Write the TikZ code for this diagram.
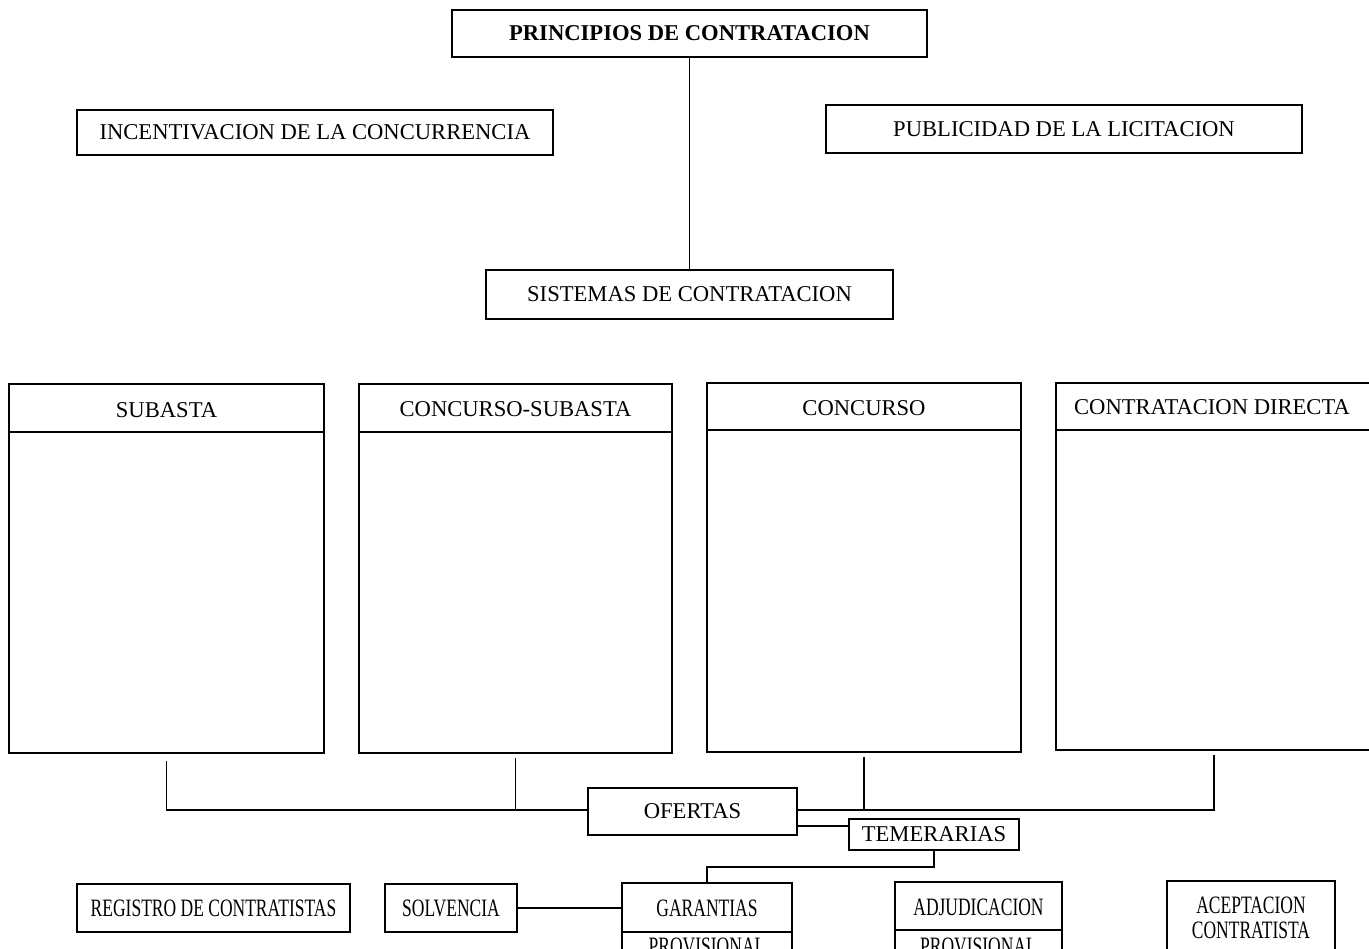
\documentclass[tikz,border=0pt]{standalone}
\usepackage{fontspec}
\setmainfont{Liberation Serif}
\newfontfamily\condfont[FakeStretch=0.7]{Liberation Serif}
\usetikzlibrary{calc}
\tikzset{
  box/.style={draw, line width=0.8pt, inner sep=0pt, font=\fontsize{11.3}{13}\selectfont},
  bigbox/.style={draw, line width=0.8pt, inner sep=0pt},
  lbl/.style={inner sep=0pt, font=\fontsize{11.3}{13}\selectfont},
  clbl/.style={inner sep=0pt, align=center, font=\condfont\fontsize{12.5}{12.5}\selectfont},
  cbox/.style={draw, line width=0.8pt, inner sep=0pt, align=center, font=\condfont\fontsize{12.5}{12.5}\selectfont},
  conn/.style={line width=0.85pt},
  divline/.style={line width=0.8pt}
}
\begin{document}
\begin{tikzpicture}[x=0.5pt, y=-0.5pt]
\useasboundingbox (0,0) rectangle (1369,948);
\clip (0,0) rectangle (1369,948);

% top row
\node[box, minimum width=237.5pt, minimum height=23.5pt, font=\bfseries\fontsize{11.3}{13}\selectfont] (princ) at (689.5,33.5) {PRINCIPIOS DE CONTRATACION};
\node[box, minimum width=238pt, minimum height=22.5pt] (incent) at (315,132.5) {INCENTIVACION DE LA CONCURRENCIA};
\node[box, minimum width=238pt, minimum height=24pt] (publ) at (1064,129) {PUBLICIDAD DE LA LICITACION};
\node[box, minimum width=203.5pt, minimum height=24.5pt] (sist) at (689.5,294.5) {SISTEMAS DE CONTRATACION};
\draw[conn] (princ.south) -- (sist.north);

% big boxes
\node[bigbox, minimum width=157.5pt, minimum height=184.5pt] (subasta) at (166.5,568.5) {};
\node[lbl] (subastaH) at (166.5,410) {SUBASTA};
\draw[divline] (subasta.west |- 0,432) -- (subasta.east |- 0,432);

\node[bigbox, minimum width=156.5pt, minimum height=184.5pt] (cs) at (515.5,568.5) {};
\node[lbl] (csH) at (515.5,409) {CONCURSO-SUBASTA};
\draw[divline] (cs.west |- 0,432) -- (cs.east |- 0,432);

\node[bigbox, minimum width=157pt, minimum height=184.5pt] (conc) at (864,567.5) {};
\node[lbl] (concH) at (864,408) {CONCURSO};
\draw[divline] (conc.west |- 0,430) -- (conc.east |- 0,430);

\node[bigbox, minimum width=158pt, minimum height=183.5pt] (cd) at (1214,566.5) {};
\node[lbl] (cdH) at (1212,407) {CONTRATACION DIRECTA};
\draw[divline] (cd.west |- 0,430) -- (cd.east |- 0,430);

% ofertas
\node[box, minimum width=104.5pt, minimum height=23.5pt] (ofertas) at (692.5,811.5) {OFERTAS};
\node[box, minimum width=85pt, minimum height=15.5pt] (temer) at (934,834.5) {TEMERARIAS};

\draw[conn] ([yshift=-3.5pt]subasta.south) |- ([yshift=0.75pt]ofertas.west);
\draw[conn] ([yshift=-2pt]cs.south) -- (cs.south |- 0,810);
\draw[conn] ([yshift=0.75pt]ofertas.east) -| ([yshift=-2pt]cd.south);
\draw[conn] ([yshift=-2pt]conc.south) -- (conc.south |- 0,810);
\draw[conn] ([yshift=-7.25pt]ofertas.east) -- ([yshift=-7.25pt]ofertas.east -| temer.west);

% bottom row
\node[cbox, minimum width=136.5pt, minimum height=24pt] (regis) at (213.5,908) {REGISTRO DE CONTRATISTAS};
\node[cbox, minimum width=66pt, minimum height=24pt] (solv) at (451,908) {SOLVENCIA};

\node[bigbox, minimum width=85pt, minimum height=53.5pt] (garant) at (707,936.5) {};
\node[clbl] (garantH) at (707,908) {GARANTIAS};
\node[clbl] (garantP) at (707,946) {PROVISIONAL};
\draw[divline] (garant.west |- 0,932) -- (garant.east |- 0,932);

\node[bigbox, minimum width=83.5pt, minimum height=54pt] (adjud) at (978.5,936) {};
\node[clbl] (adjudH) at (978.5,907) {ADJUDICACION};
\node[clbl] (adjudP) at (978.5,946) {PROVISIONAL};
\draw[divline] (adjud.west |- 0,930) -- (adjud.east |- 0,930);

\node[bigbox, minimum width=84pt, minimum height=54.5pt] (acept) at (1251,935.5) {};
\node[clbl] (aceptT) at (1251,918) {ACEPTACION\\CONTRATISTA};

\draw[conn] (temer.south) -- ++(0,16) -| (garant.north);
\draw[conn] (solv.east) -- (solv.east -| garant.west);
\end{tikzpicture}
\end{document}
